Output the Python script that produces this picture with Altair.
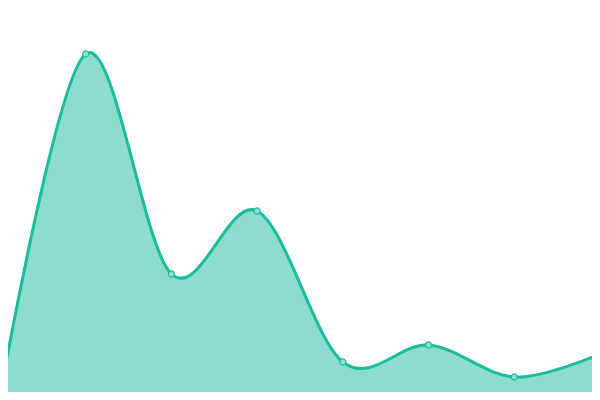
import altair as alt
import pandas as pd

idx = [0, 1, 2, 3, 4, 5, 6, 7]
values = [1.0, 86.5, 31.5, 47.25, 9.5, 13.75, 5.75, 11.5]

df = pd.DataFrame({"i": idx, "v": values})

x = alt.X("i:Q", scale=alt.Scale(domain=[8 / (600 / 7), 7 - 8 / (600 / 7)], nice=False, zero=False), axis=None)
y = alt.Y("v:Q", scale=alt.Scale(domain=[2, 98], nice=False, zero=False), axis=None)

base = alt.Chart(df)

area = base.mark_area(interpolate="cardinal", color="#1abc9c", opacity=0.5, clip=False).encode(
    x=x, y=y, y2=alt.Y2(datum=0)
)
line = base.mark_line(interpolate="cardinal", color="#1abc9c", strokeWidth=3).encode(x=x, y=y)
pts = base.mark_point(filled=True, fill="#8ce0cd", stroke="#1abc9c", strokeWidth=1.2, size=38, opacity=1).encode(x=x, y=y)

chart = (area + line + pts).properties(
    width=584, height=384, padding=0, autosize=alt.AutoSizeParams(type="none")
).configure_view(stroke=None)

chart.save("out.html", embed_options={"renderer": "svg", "actions": False})
